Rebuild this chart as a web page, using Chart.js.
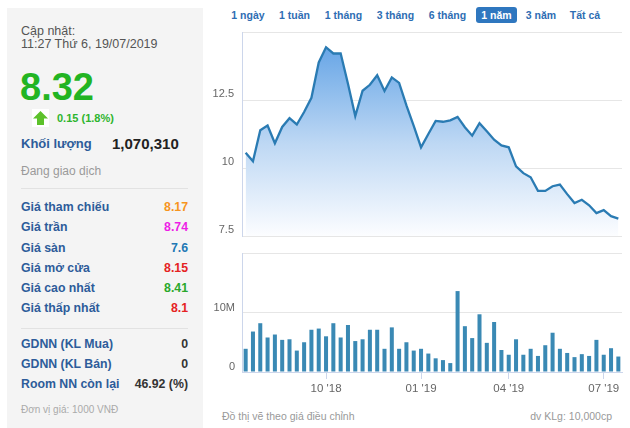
<!DOCTYPE html>
<html><head><meta charset="utf-8">
<script src="https://cdn.jsdelivr.net/npm/chart.js@4.4.0/dist/chart.umd.min.js"></script>
<style>
html,body{margin:0;padding:0;background:#fff;width:630px;height:428px;overflow:hidden;font-family:Arial,"Liberation Sans",Helvetica,sans-serif;}
.a{position:absolute;white-space:nowrap;line-height:16px;}
#panel{position:absolute;left:7px;top:8px;width:196px;height:420px;background:#f4f4f4;}
.hr{position:absolute;left:21px;width:167px;height:1px;background:#e2e2e2;}
.lbl{left:21px;font-weight:bold;font-size:12.3px;color:#2d5c9a;}
.val{right:442px;font-weight:bold;font-size:12.3px;text-align:right;}
.btn{position:absolute;top:7px;line-height:16px;font-size:10.5px;font-weight:bold;color:#2e6db3;transform:translateX(-50%);white-space:nowrap;}
canvas{position:absolute;}
</style></head>
<body>
<div id="panel"></div>
<div class="a" style="left:21px;top:23px;font-size:12.5px;color:#555;">Cập nhật:</div>
<div class="a" style="left:21px;top:36px;font-size:12.5px;color:#555;">11:27 Thứ 6, 19/07/2019</div>
<div class="a" style="left:20px;top:68px;font-size:38px;line-height:38px;font-weight:bold;color:#22b422;">8.32</div>
<svg style="position:absolute;left:32px;top:109px" width="17" height="18" viewBox="0 0 17 18">
<rect width="17" height="18" fill="#fff"/>
<polygon points="8.5,2 16,9.5 12,9.5 12,16 5,16 5,9.5 1,9.5" fill="#5cc12a"/>
</svg>
<div class="a" style="left:57px;top:110px;font-size:11px;font-weight:bold;color:#2db52d;">0.15 (1.8%)</div>
<div class="a" style="left:21px;top:136px;font-size:13px;font-weight:bold;color:#2d5c9a;">Khối lượng</div>
<div class="a" style="left:112px;top:136px;font-size:15px;font-weight:bold;color:#222;">1,070,310</div>
<div class="a" style="left:21px;top:163px;font-size:12px;color:#9a9a9a;">Đang giao dịch</div>
<div class="hr" style="top:188px"></div>

<div class="a lbl" style="top:199px">Giá tham chiếu</div><div class="a val" style="top:199px;color:#f7941d;">8.17</div>
<div class="a lbl" style="top:219px">Giá trần</div><div class="a val" style="top:219px;color:#ee1ee6;">8.74</div>
<div class="a lbl" style="top:240px">Giá sàn</div><div class="a val" style="top:240px;color:#2278b5;">7.6</div>
<div class="a lbl" style="top:260px">Giá mở cửa</div><div class="a val" style="top:260px;color:#e52222;">8.15</div>
<div class="a lbl" style="top:280px">Giá cao nhất</div><div class="a val" style="top:280px;color:#2aa82a;">8.41</div>
<div class="a lbl" style="top:300px">Giá thấp nhất</div><div class="a val" style="top:300px;color:#e52222;">8.1</div>
<div class="hr" style="top:328px"></div>
<div class="a lbl" style="top:336px">GDNN (KL Mua)</div><div class="a val" style="top:336px;color:#333;">0</div>
<div class="a lbl" style="top:356px">GDNN (KL Bán)</div><div class="a val" style="top:356px;color:#333;">0</div>
<div class="a lbl" style="top:376px">Room NN còn lại</div><div class="a val" style="top:376px;color:#333;">46.92 (%)</div>
<div class="a" style="left:21px;top:402px;font-size:10px;color:#aaa;">Đơn vị giá: 1000 VNĐ</div>

<span class="btn" style="left:248px">1 ngày</span>
<span class="btn" style="left:294.5px">1 tuần</span>
<span class="btn" style="left:343.5px">1 tháng</span>
<span class="btn" style="left:395.5px">3 tháng</span>
<span class="btn" style="left:447.5px">6 tháng</span>
<div style="position:absolute;left:476px;top:7px;width:41px;height:16px;background:#2f77bf;border-radius:3px;"></div>
<span class="btn" style="left:496.5px;color:#fff">1 năm</span>
<span class="btn" style="left:541px">3 năm</span>
<span class="btn" style="left:585px">Tất cả</span>

<canvas id="priceChart" width="420" height="212" style="left:210px;top:28px;width:420px;height:212px"></canvas>
<canvas id="volChart" width="420" height="155" style="left:210px;top:245px;width:420px;height:155px"></canvas>

<div class="a" style="left:222px;top:408px;font-size:10.5px;color:#999;">Đồ thị vẽ theo giá điều chỉnh</div>
<div class="a" style="right:18px;top:408px;font-size:10.5px;color:#999;text-align:right;">dv KLg: 10,000cp</div>

<script>
const weeks = [
 '16/07/2018','23/07/2018','30/07/2018','06/08/2018','13/08/2018','20/08/2018','27/08/2018',
 '03/09/2018','10/09/2018','17/09/2018','24/09/2018','01/10/2018','08/10/2018','15/10/2018',
 '22/10/2018','29/10/2018','05/11/2018','12/11/2018','19/11/2018','26/11/2018','03/12/2018',
 '10/12/2018','17/12/2018','24/12/2018','31/12/2018','07/01/2019','14/01/2019','21/01/2019',
 '28/01/2019','11/02/2019','18/02/2019','25/02/2019','04/03/2019','11/03/2019','18/03/2019',
 '25/03/2019','01/04/2019','08/04/2019','15/04/2019','22/04/2019','29/04/2019','06/05/2019',
 '13/05/2019','20/05/2019','27/05/2019','03/06/2019','10/06/2019','17/06/2019','24/06/2019',
 '01/07/2019','08/07/2019','15/07/2019'
];
const prices = [
 10.56,10.25,11.39,11.56,10.91,11.51,11.83,11.6,12.06,12.58,
 13.88,14.44,14.21,14.21,13.1,11.91,12.84,13.06,13.41,12.83,
 13.33,13.13,12.3,11.55,10.76,11.25,11.73,11.7,11.75,11.88,
 11.5,11.19,11.65,11.35,11.04,10.83,10.76,10.06,9.81,9.66,
 9.16,9.16,9.33,9.39,9.04,8.71,8.83,8.63,8.34,8.45,
 8.23,8.14
];
const volumesM = [
 3.9,6.8,8.2,5.8,6.3,5.4,5.5,3.6,5.0,7.1,
 7.3,6.0,8.2,5.8,7.9,5.2,5.5,7.1,7.1,3.9,
 7.5,3.9,5.0,3.6,3.9,3.1,2.3,2.0,1.5,13.6,
 7.7,5.7,9.7,4.9,8.4,3.7,2.9,5.5,2.9,3.9,
 2.7,4.5,6.6,3.9,3.2,2.5,3.0,2.7,5.4,2.9,
 4.0,2.6
];
const xTickWeeks = ['01/10/2018','31/12/2018','01/04/2019','01/07/2019'];
const xTickLabels = ["10 '18","01 '19","04 '19","07 '19"];
const priceTicks = [7.5, 10, 12.5, 15];
const priceTickLabels = ['7.5','10','12.5',''];
const volTicks = [0, 10, 20];
const volTickLabels = ['0','10M',''];

const FONT = 'Arial, "Liberation Sans", Helvetica, sans-serif';
const common = {
  responsive:false, animation:false, events:[],
  plugins:{legend:{display:false},tooltip:{enabled:false}}
};
function fixY(s){ s.width = 32; s.paddingTop = 0; s.paddingBottom = 0; }

new Chart(document.getElementById('priceChart'), {
  type:'line',
  data:{labels:weeks, datasets:[{
    data:prices, borderColor:'#2a7bb3', borderWidth:2.3, pointRadius:0, tension:0, fill:'start',
    backgroundColor:(ctx)=>{
      const ca = ctx.chart.chartArea;
      if(!ca) return 'rgba(120,175,230,0.6)';
      const g = ctx.chart.ctx.createLinearGradient(0, ca.top, 0, ca.bottom);
      g.addColorStop(0, 'rgb(90,158,228)');
      g.addColorStop(0.55, 'rgb(190,216,244)');
      g.addColorStop(1, 'rgb(252,253,255)');
      return g;
    }
  }]},
  options:{...common,
    layout:{padding:{top:4,bottom:4,right:8,left:0}},
    scales:{
      x:{type:'category', offset:true, display:false},
      y:{min:7.5, max:15,
        afterBuildTicks:s=>{ s.ticks = priceTicks.map(v=>({value:v})); },
        afterFit:fixY,
        grid:{color:'#e6e6e6', drawTicks:false},
        border:{display:true, color:'#ccd6eb'},
        ticks:{padding:8, color:'#666', font:{size:11, family:FONT}, labelOffset:-6,
          callback:(v)=>{ const i = priceTicks.indexOf(v); return i>=0 ? priceTickLabels[i] : ''; }}
      }
    }
  }
});

new Chart(document.getElementById('volChart'), {
  type:'bar',
  data:{labels:weeks, datasets:[{
    data:volumesM, backgroundColor:'#3a89b4', barPercentage:0.55, categoryPercentage:1
  }]},
  options:{...common,
    layout:{padding:{top:8,bottom:0,right:8,left:0}},
    scales:{
      x:{type:'category', offset:true,
        afterBuildTicks:s=>{ s.ticks = s.ticks.filter(t=> xTickWeeks.includes(weeks[t.value])); },
        afterFit:s=>{ s.height = 28; },
        grid:{offset:false, drawOnChartArea:false, color:'#ccd6eb', tickLength:7},
        border:{display:true, color:'#ccd6eb'},
        ticks:{autoSkip:false, maxRotation:0, padding:3, color:'#666', font:{size:11.5, family:FONT},
          callback:(v)=>{ const i = xTickWeeks.indexOf(weeks[v]); return i>=0 ? xTickLabels[i] : ''; }}
      },
      y:{min:0, max:20,
        afterBuildTicks:s=>{ s.ticks = volTicks.map(v=>({value:v})); },
        afterFit:fixY,
        grid:{color:'#e6e6e6', drawTicks:false},
        border:{display:true, color:'#ccd6eb'},
        ticks:{padding:7, color:'#666', font:{size:11, family:FONT}, labelOffset:-5,
          callback:(v)=>{ const i = volTicks.indexOf(v); return i>=0 ? volTickLabels[i] : ''; }}
      }
    }
  }
});
</script>
</body></html>
